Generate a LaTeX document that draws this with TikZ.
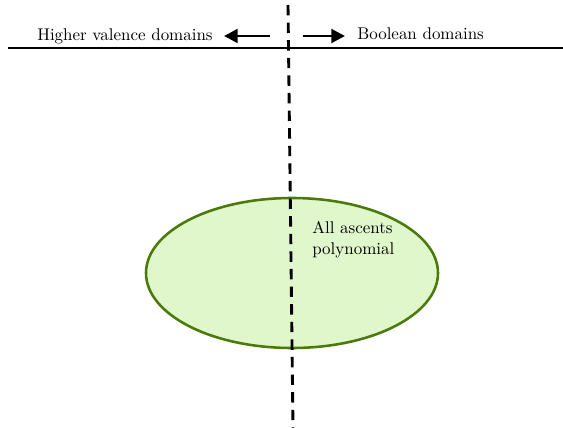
\documentclass[tikz,border=0pt]{standalone}
\usetikzlibrary{arrows.meta}
\definecolor{regionfill}{HTML}{E0F7CC}
\definecolor{regionedge}{HTML}{4A7A0A}
\begin{document}
\begin{tikzpicture}[x=0.625pt,y=-0.625pt,
  divider/.style={line width=1.8pt,dash pattern=on 6.5pt off 4.5pt},
  baseline rule/.style={line width=0.8pt},
  dirarrow/.style={line width=1.8pt,-{Triangle[length=8.5pt,width=8.5pt]}},
  label/.style={inner sep=0pt,font=\fontsize{10.6}{13}\selectfont},
  region/.style={draw=regionedge,fill=regionfill,line width=1.6pt}]
  \useasboundingbox (0,0) rectangle (563,428);
  % region ellipse
  \draw[region] (292,273) ellipse [x radius=146,y radius=75];
  % header rule
  \coordinate (ruleL) at (8,48);
  \coordinate (ruleR) at (563,48);
  \draw[baseline rule] (ruleL) -- (ruleR);
  % vertical divider
  \coordinate (divTop) at (288,5);
  \coordinate (divBot) at (293,428);
  \draw[divider] (divTop) -- (divBot);
  % direction labels
  \node[label,anchor=east] (hv) at (213,36) {Higher valence domains};
  \node[label,anchor=west] (bool) at (357,34) {Boolean domains};
  \coordinate (la) at (270,36);
  \coordinate (lb) at (224,36);
  \coordinate (ra) at (303,36);
  \coordinate (rb) at (345,36);
  \draw[dirarrow] (la) -- (lb);
  \draw[dirarrow] (ra) -- (rb);
  % region label
  \node[label,anchor=north west,align=left] (txt) at (312,221) {All ascents\\polynomial};
\end{tikzpicture}
\end{document}
